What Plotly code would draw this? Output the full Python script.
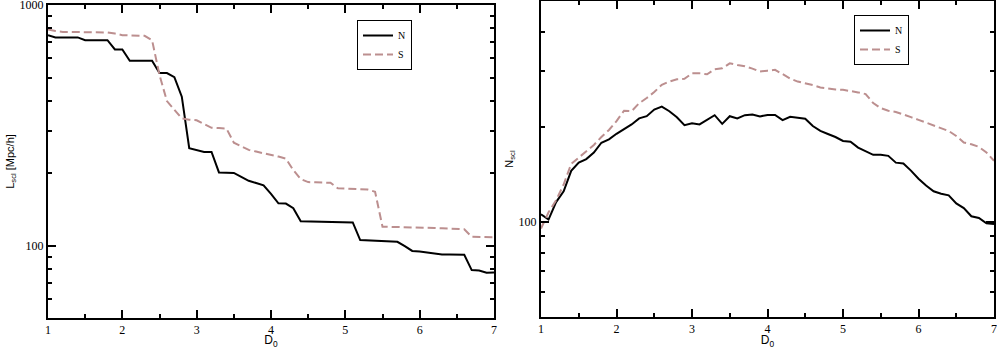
import plotly.graph_objs as go

# D0 grid shared by both panels
D0 = [1.0, 1.1, 1.2, 1.3, 1.4, 1.5, 1.6, 1.7, 1.8, 1.9,
      2.0, 2.1, 2.2, 2.3, 2.4, 2.5, 2.6, 2.7, 2.8, 2.9,
      3.0, 3.1, 3.2, 3.3, 3.4, 3.5, 3.6, 3.7, 3.8, 3.9,
      4.0, 4.1, 4.2, 4.3, 4.4, 4.5, 4.6, 4.7, 4.8, 4.9,
      5.0, 5.1, 5.2, 5.3, 5.4, 5.5, 5.6, 5.7, 5.8, 5.9,
      6.0, 6.1, 6.2, 6.3, 6.4, 6.5, 6.6, 6.7, 6.8, 6.9, 7.0]

# left panel: L_scl [Mpc/h]
L_N = [750, 734, 734, 734, 734, 715, 715, 715, 715, 654,
       654, 587, 587, 587, 587, 522, 522, 502, 416, 254,
       250, 245, 245, 201.5, 201, 200.5, 193, 186, 182, 178,
       164, 150, 149.5, 143, 126.4, 126.2, 126, 125.8, 125.5, 125.2,
       125, 124.8, 105.4, 105, 104.7, 104.4, 104.1, 103.7, 99.5, 95,
       94.6, 93.5, 92.5, 91.9, 91.8, 91.7, 91.6, 79.1, 78.8, 77.1, 77.3]
L_S = [792, 780, 774, 774, 774, 774, 772, 770, 770, 762,
       750, 748, 747, 745, 715, 512, 399, 366, 338, 334,
       332, 320, 309, 308, 307, 268, 258, 250, 246, 242.5,
       239, 234.5, 230, 206, 189, 183.7, 183.3, 183, 182.5, 173,
       172.6, 172.3, 172, 171, 167.5, 119.8, 119.7, 119.6, 119.5, 119.2,
       118.9, 118.6, 118.3, 118, 117.6, 117.3, 117, 108.8, 108.6, 108.5, 108.4]

# right panel: N_scl
N_N = [105.7, 101.7, 115.5, 125, 145, 154, 158, 165.8, 178, 182.5,
       190, 197, 203.4, 212.6, 216, 226.7, 231.7, 224, 214.4, 202.4,
       205.3, 203.4, 211, 217.6, 204.3, 216, 212.5, 217.6, 218.7, 215.6,
       218, 218, 209.9, 215, 213.6, 212, 201, 194, 189.7, 185.6,
       180.3, 179.4, 171.8, 167.5, 163, 163, 161.8, 154, 153, 145.3,
       137, 130.3, 125, 122.7, 121.3, 114.4, 110.6, 104.2, 102.9, 98.9, 98.4]
N_S = [95.3, 107.2, 117, 131.3, 152.5, 159.5, 166.5, 175.2, 185.6, 195.3,
       208.4, 224.8, 224, 237.4, 246.5, 257.5, 271.6, 278, 282.8, 283.6,
       295.3, 295.3, 293.2, 304, 306.2, 317.4, 313.8, 311, 305.5, 298.9,
       301, 302.7, 293.5, 284.2, 278, 274.8, 271, 266.3, 263.8, 262.4,
       261.8, 259.7, 256.9, 253.8, 237.7, 229, 224.8, 222.8, 219.2, 214.5,
       210.3, 206.1, 202.3, 198.1, 193.9, 187, 178.2, 176.1, 172.7, 165.8, 156.1]

X_TICKS = [1, 2, 3, 4, 5, 6, 7]
L_TICKS = [100, 1000]
L_MINOR = [60, 70, 80, 90, 200, 300, 400, 500, 600, 700, 800, 900]
N_TICKS = [100]
N_MINOR = [60, 70, 80, 90, 200, 300, 400]

W, H = 997, 349
S_COLOR = "#bc8f8f"


def axis_style(**kw):
    d = dict(showline=True, linecolor="black", linewidth=2, mirror="allticks",
             ticks="inside", ticklen=8, tickwidth=1.5, tickcolor="black",
             showgrid=False, zeroline=False, automargin=False, ticklabeloverflow="allow",
             tickfont=dict(family="Liberation Serif", size=12, color="black"))
    d.update(kw)
    return d


def x_axis(domain, anchor):
    return axis_style(domain=domain, anchor=anchor, range=[1, 7], tickvals=X_TICKS,
                      minor=dict(dtick=0.5, ticks="inside", ticklen=4, tickwidth=1.5,
                                 tickcolor="black"),
                      title=dict(text="D<sub>0</sub>", standoff=2,
                                 font=dict(family="Liberation Sans", size=12, color="black")))


def y_axis(domain, anchor, rng, ticks, minor, title):
    return axis_style(domain=domain, anchor=anchor, type="log", range=rng,
                      tickvals=ticks, ticktext=[str(t) for t in ticks],
                      minor=dict(tickvals=minor, ticks="inside", ticklen=4, tickwidth=1.5,
                                 tickcolor="black"),
                      title=dict(text=title, standoff=3,
                                 font=dict(family="Liberation Sans", size=11, color="black")))


def main():
    fig = go.Figure()
    fig.add_trace(go.Scatter(x=D0, y=L_N, name="N", mode="lines", xaxis="x", yaxis="y",
                             line=dict(color="black", width=2), legend="legend"))
    fig.add_trace(go.Scatter(x=D0, y=L_S, name="S", mode="lines", xaxis="x", yaxis="y",
                             line=dict(color=S_COLOR, width=2, dash="8px,4px"), legend="legend"))
    fig.add_trace(go.Scatter(x=D0, y=N_N, name="N", mode="lines", xaxis="x2", yaxis="y2",
                             line=dict(color="black", width=2), legend="legend2"))
    fig.add_trace(go.Scatter(x=D0, y=N_S, name="S", mode="lines", xaxis="x2", yaxis="y2",
                             line=dict(color=S_COLOR, width=2, dash="8px,4px"), legend="legend2"))

    legend_box = dict(bgcolor="white", bordercolor="black", borderwidth=1,
                      font=dict(family="Liberation Serif", size=10, color="black"),
                      xanchor="left", yanchor="top", tracegroupgap=0, itemwidth=30)

    fig.update_layout(
        width=W, height=H,
        margin=dict(l=0, r=0, t=0, b=0, autoexpand=False),
        paper_bgcolor="white", plot_bgcolor="white",
        xaxis=x_axis([48 / W, 494 / W], "y"),
        yaxis=y_axis([1 - 318 / H, 1 - 5 / H], "x", [1.69897, 3.0005], L_TICKS, L_MINOR,
                     "L<sub>scl</sub> [Mpc/h]"),
        xaxis2=x_axis([541 / W, 994 / W], "y2"),
        yaxis2=y_axis([1 - 317 / H, 1 - 1 / H], "x2", [1.69897, 2.69897], N_TICKS, N_MINOR,
                      "N<sub>scl</sub>"),
        legend=dict(x=357 / W, y=1 - 20 / H, **legend_box),
        legend2=dict(x=854 / W, y=1 - 15 / H, **legend_box),
        showlegend=True,
    )
    # the page body has a default 8px margin; drop it so the figure sits at the window corner
    fig.write_html("out.html", config={"displayModeBar": False},
                   post_script="document.body.style.margin = '0';")


if __name__ == "__main__":
    main()
